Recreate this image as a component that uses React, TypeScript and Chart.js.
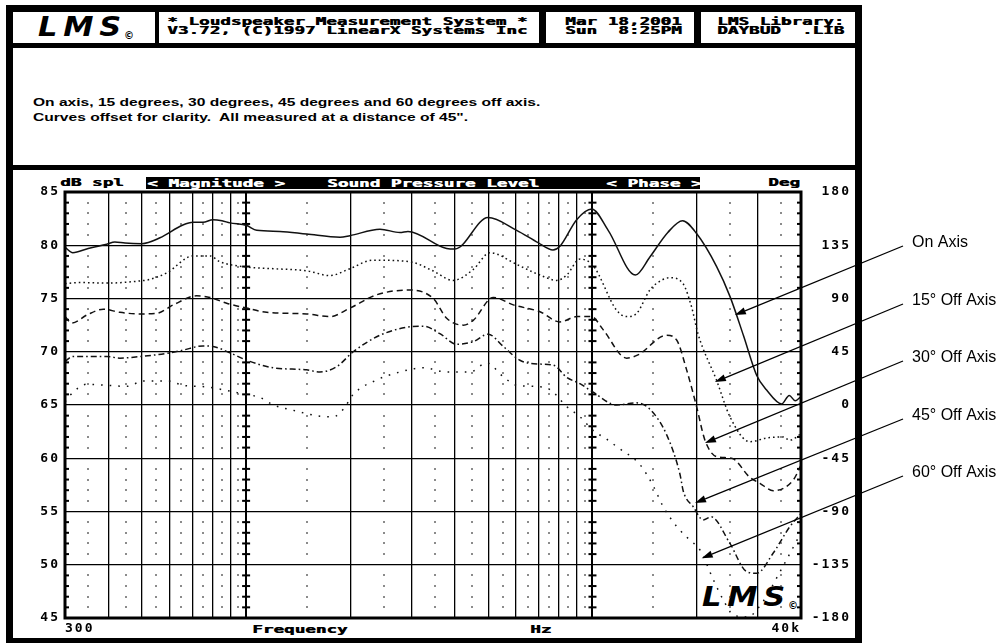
import React, { useEffect, useRef } from 'react';
import { Chart, registerables } from 'chart.js';

Chart.register(...registerables);

// ---------------- data ----------------
const onAxisFreq = [300, 316, 350, 396, 418, 447, 500, 564, 657, 703, 751, 802, 852, 898, 1004, 1073, 1252, 1496, 1867, 1994, 2435, 2781, 2933, 3794, 4009, 4993, 6042, 6961, 7690, 8055, 9003, 9947, 11100, 13300, 14650, 16500, 18200, 19980, 22830, 24940, 27300, 29780, 31830, 35170, 37000, 38500, 40000];
const onAxisDb = [79.8, 79.3, 79.7, 80.1, 80.3, 80.2, 80.15, 80.7, 81.9, 82.15, 82.15, 82.4, 82.3, 82.1, 81.85, 81.4, 81.3, 81.05, 80.75, 80.9, 81.5, 81.2, 81.3, 79.7, 79.65, 82.6, 81.4, 80.25, 79.55, 79.9, 82.4, 83.4, 81.4, 77.2, 78.9, 81.2, 82.3, 81.1, 78.0, 75.2, 71.5, 67.8, 66.4, 65.1, 65.9, 65.4, 65.8];

const off15Freq = [300, 331, 396, 494, 528, 590, 703, 787, 841, 1004, 1196, 1496, 1746, 1994, 2324, 2972, 3462, 3957, 4518, 5059, 6042, 7052, 7881, 8424, 9200, 10040, 11740, 12550, 13410, 14650, 15800, 16740, 18250, 19330, 20160, 22830, 24940, 28480, 31830, 35460, 37170, 40000];
const off15Db = [76.4, 76.5, 76.45, 76.65, 76.8, 77.4, 79.0, 79.0, 78.45, 77.95, 77.8, 77.6, 77.15, 77.8, 78.6, 78.45, 77.6, 76.7, 77.7, 79.3, 78.2, 77.2, 76.7, 77.2, 78.7, 78.1, 73.9, 73.3, 73.6, 75.8, 76.7, 76.95, 76.4, 74.2, 71.7, 67.3, 63.9, 61.55, 61.9, 62.0, 61.7, 62.3];

const off30Freq = [300, 314, 347, 387, 432, 494, 552, 616, 720, 787, 879, 1004, 1147, 1496, 1746, 1994, 2382, 2972, 3470, 3794, 4235, 4527, 5172, 5908, 7052, 8055, 9003, 9947, 10720, 12550, 13530, 16380, 17500, 18700, 19980, 21120, 22830, 25230, 28480, 30440, 33260, 37980, 40000];
const off30Db = [73.3, 72.7, 73.45, 74.0, 73.7, 73.55, 73.6, 74.4, 75.25, 75.1, 74.55, 74.1, 73.7, 73.55, 73.3, 74.1, 75.35, 75.8, 75.0, 73.15, 72.5, 72.95, 75.1, 74.4, 73.75, 72.8, 73.3, 73.3, 72.1, 69.4, 69.7, 71.55, 71.1, 68.3, 64.85, 61.7, 60.15, 60.0, 58.2, 57.65, 56.95, 57.95, 59.35];

const off45Freq = [300, 316, 396, 432, 494, 590, 657, 751, 802, 898, 1004, 1196, 1496, 1634, 1826, 2039, 2435, 2908, 3247, 3627, 4053, 4527, 5000, 5526, 6174, 6961, 7704, 8424, 9201, 10050, 11740, 13410, 14650, 16380, 17890, 18290, 19540, 20880, 22000, 24940, 27870, 29780, 33260, 37170, 40000];
const off45Db = [69.1, 69.55, 69.55, 69.4, 69.55, 69.85, 70.15, 70.55, 70.5, 69.9, 69.2, 68.5, 68.3, 68.1, 68.6, 70.0, 71.55, 72.3, 72.4, 71.7, 70.7, 70.95, 71.65, 70.5, 69.2, 68.85, 68.75, 67.6, 67.0, 66.2, 65.0, 65.2, 64.6, 62.2, 58.5, 56.9, 55.45, 54.2, 54.5, 52.0, 49.35, 49.2, 51.1, 53.6, 54.8];

const off60Freq = [300, 310, 347, 396, 452, 505, 596, 657, 770, 852, 960, 1097, 1200, 1368, 1634, 1785, 1908, 2039, 2382, 2781, 3247, 3794, 4429, 4950, 5526, 6042, 6747, 7538, 8424, 9201, 10050, 10990, 11740, 13710, 14980, 16010, 17500, 19120, 20430, 22330, 23860, 25500, 28000, 31000, 35000, 40000];
const off60Db = [65.3, 65.9, 66.95, 66.85, 66.75, 67.25, 67.25, 66.85, 66.7, 66.45, 66.1, 65.7, 65.0, 64.5, 63.95, 63.9, 64.6, 66.0, 67.35, 68.1, 68.5, 68.1, 68.1, 68.95, 67.65, 66.85, 66.75, 66.45, 64.85, 63.9, 62.6, 61.8, 61.1, 59.4, 57.4, 55.45, 53.6, 52.3, 51.4, 48.6, 46.7, 45.3, 45.1, 46.5, 49.5, 53.0];

const seriesLabels = ['On Axis', '15° Off Axis', '30° Off Axis', '45° Off Axis', '60° Off Axis'];
const arrowTipFreq = [25770, 22560, 21120, 19770, 20670];
const arrowTipDb = [73.45, 67.16, 61.43, 55.8, 50.6];

const gridFreqs = [300, 400, 500, 600, 700, 800, 900, 1000, 2000, 3000, 4000, 5000, 6000, 7000, 8000, 9000, 10000, 20000, 30000, 40000];
const dotFreqs = [350, 450, 550, 650, 750, 850, 950, 1500, 2500, 3500, 4500, 5500, 6500, 7500, 8500, 9500, 15000, 25000, 35000];
const decadeFreqs = [1000, 10000];
const xTickText: Record<number, string> = { 300: '300', 40000: '40k' };
const dbMin = 45, dbMax = 85, dbStep = 5;
const phaseMin = -180, phaseMax = 180, phaseStep = 45;

// ---------------- styling ----------------
const PIX_FONT = '"DejaVu Sans Mono", "Liberation Mono", monospace';
const SANS = '"Liberation Sans", Arial, Helvetica, sans-serif';

const toPts = (f: number[], d: number[]) => f.map((v, i) => ({ x: v, y: d[i] }));

const gridDecor = {
  id: 'gridDecor',
  beforeDatasetsDraw(chart: any) {
    const { ctx, chartArea, scales } = chart;
    const { left, right } = chartArea;
    const x = scales.x, y = scales.y;
    ctx.save();
    for (let d = dbMin + 1; d < dbMax; d++) {
      if (d % dbStep === 0) continue;
      const py = y.getPixelForValue(d);
      ctx.fillStyle = '#333';
      dotFreqs.forEach((f) => {
        const px = x.getPixelForValue(f);
        ctx.fillRect(Math.round(px) - 0.75, Math.round(py) - 0.75, 1.5, 1.5);
      });
      ctx.fillStyle = '#000';
      ctx.fillRect(left, py - 1, 4, 2);
      ctx.fillRect(right - 4, py - 1, 4, 2);
      decadeFreqs.forEach((f) => {
        const px = x.getPixelForValue(f);
        ctx.fillRect(px - 4, py - 1, 8, 2);
      });
    }
    ctx.restore();
  },
  afterDatasetsDraw(chart: any) {
    const { ctx, chartArea } = chart;
    const { left, right, top, bottom } = chartArea;
    ctx.save();
    ctx.strokeStyle = '#000';
    ctx.lineWidth = 3;
    ctx.strokeRect(left, top, right - left, bottom - top);
    ctx.restore();
  },
};

const spacing = {
  id: 'spacing',
  beforeDraw(chart: any) {
    chart.ctx.letterSpacing = '2px';
  },
};

const arrows = {
  id: 'arrows',
  afterDraw(chart: any) {
    const { ctx, scales } = chart;
    const labelX = 912;
    const startX = 903;
    const baseY = [247, 305, 362, 420, 477];
    ctx.save();
    ctx.letterSpacing = '0px';
    ctx.strokeStyle = '#000';
    ctx.fillStyle = '#000';
    ctx.lineWidth = 1.3;
    seriesLabels.forEach((label, i) => {
      const sx = startX, sy = baseY[i] - 1;
      const tx = scales.x.getPixelForValue(arrowTipFreq[i]);
      const ty = scales.y.getPixelForValue(arrowTipDb[i]);
      const ang = Math.atan2(ty - sy, tx - sx);
      const L = 11, W = 3.6;
      const bx = tx - Math.cos(ang) * L, by = ty - Math.sin(ang) * L;
      ctx.beginPath();
      ctx.moveTo(sx, sy);
      ctx.lineTo(bx, by);
      ctx.stroke();
      ctx.beginPath();
      ctx.moveTo(tx, ty);
      ctx.lineTo(bx + Math.sin(ang) * W, by - Math.cos(ang) * W);
      ctx.lineTo(bx - Math.sin(ang) * W, by + Math.cos(ang) * W);
      ctx.closePath();
      ctx.fill();
      ctx.font = `16px ${SANS}`;
      ctx.textAlign = 'left';
      ctx.textBaseline = 'alphabetic';
      ctx.fillText(label, labelX, baseY[i]);
    });
    ctx.restore();
  },
};

const Px = ({ x, y, text, color = '#000', size = 11, sx = 1.6 }: any) => (
  <div
    style={{
      position: 'absolute', left: x, top: y, fontFamily: PIX_FONT, fontWeight: 'bold',
      fontSize: size, lineHeight: `${size}px`, whiteSpace: 'pre', color,
      transform: `scaleX(${sx})`, transformOrigin: '0 0', textShadow: `0.5px 0 0 ${color}`,
    }}
  >
    {text}
  </div>
);

const Panel = ({ x, y, w, h }: any) => (
  <div style={{ position: 'absolute', left: x, top: y, width: w, height: h, background: '#fff' }} />
);

const Logo = ({ x, y }: any) => (
  <>
    <div
      style={{
        position: 'absolute', left: x, top: y, fontFamily: '"DejaVu Sans", sans-serif',
        fontStyle: 'italic', fontWeight: 'bold', fontSize: 26, lineHeight: '26px',
        letterSpacing: 5, whiteSpace: 'pre', transform: 'scaleX(1.17)', transformOrigin: '0 0', color: '#000',
      }}
    >
      LMS
    </div>
    <div
      style={{
        position: 'absolute', left: x + 86, top: y + 17, fontFamily: '"DejaVu Sans", sans-serif',
        fontSize: 10, lineHeight: '10px', color: '#000', fontWeight: 'bold',
      }}
    >
      ©
    </div>
  </>
);

export default function App() {
  const ref = useRef<HTMLCanvasElement | null>(null);

  useEffect(() => {
    if (!ref.current) return;
    const common = { borderColor: '#111', borderWidth: 1.5, pointRadius: 0, cubicInterpolationMode: 'monotone', fill: false };
    const tickFont = { family: PIX_FONT, size: 13, weight: 'bold' };
    const chart = new Chart(ref.current, {
      type: 'line',
      data: {
        datasets: [
          { ...common, label: seriesLabels[0], data: toPts(onAxisFreq, onAxisDb), borderDash: [] },
          { ...common, label: seriesLabels[1], data: toPts(off15Freq, off15Db), borderDash: [1.6, 3] },
          { ...common, label: seriesLabels[2], data: toPts(off30Freq, off30Db), borderDash: [6, 4] },
          { ...common, label: seriesLabels[3], data: toPts(off45Freq, off45Db), borderDash: [6, 3, 1.6, 3] },
          { ...common, label: seriesLabels[4], data: toPts(off60Freq, off60Db), borderDash: [1.6, 7] },
        ] as any,
      },
      options: {
        animation: false,
        responsive: false,
        maintainAspectRatio: false,
        layout: { padding: { left: 0, top: 192, right: 150, bottom: 0 } },
        plugins: { legend: { display: false }, tooltip: { enabled: false }, title: { display: false } },
        scales: {
          x: {
            type: 'logarithmic',
            min: 300,
            max: 40000,
            afterBuildTicks: (s: any) => { s.ticks = gridFreqs.map((v) => ({ value: v })); },
            afterFit: (s: any) => { s.height = 25; },
            ticks: {
              autoSkip: false, maxRotation: 0, minRotation: 0, align: 'inner', padding: 3, color: '#000',
              font: tickFont,
              callback: (v: any) => xTickText[Number(v)] ?? '',
            },
            grid: {
              drawTicks: false,
              color: (c: any) => (c.tick && (c.tick.value === 300 || c.tick.value === 40000) ? 'rgba(0,0,0,0)' : '#000'),
              lineWidth: (c: any) => (c.tick && decadeFreqs.includes(c.tick.value) ? 2 : 1.3),
            },
            border: { display: false },
          },
          y: {
            position: 'left',
            min: dbMin,
            max: dbMax,
            afterFit: (s: any) => { s.width = 65; },
            ticks: {
              stepSize: dbStep, padding: 5, color: '#000',
              font: tickFont,
              callback: (v: any) => String(v),
            },
            grid: { drawTicks: false, color: '#000', lineWidth: 1.3 },
            border: { display: false },
          },
          y2: {
            position: 'right',
            min: phaseMin,
            max: phaseMax,
            afterFit: (s: any) => { s.width = 50; },
            ticks: {
              stepSize: phaseStep, padding: 0, crossAlign: 'far', color: '#000',
              font: tickFont,
              callback: (v: any) => String(v),
            },
            grid: { display: false, drawTicks: false, drawOnChartArea: false },
            border: { display: false },
          },
        },
      } as any,
      plugins: [spacing, gridDecor, arrows],
    });
    return () => chart.destroy();
  }, []);

  return (
    <div style={{ position: 'absolute', left: 0, top: 0, width: 1001, height: 643, background: '#fff', overflow: 'hidden' }}>
      <div style={{ position: 'absolute', left: 6, top: 5, width: 856, height: 638, background: '#000' }} />
      <Panel x={13} y={12} w={142} h={31} />
      <Panel x={159} y={12} w={380} h={31} />
      <Panel x={546} y={12} w={148} h={31} />
      <Panel x={701} y={12} w={154} h={31} />
      <Panel x={13} y={48} w={842} h={117} />
      <Panel x={13} y={170} w={842} h={468} />

      <Logo x={38} y={14} />
      <Px x={167} y={16} text="* Loudspeaker Measurement System *" />
      <Px x={167} y={25.3} text="V3.72, (C)1997 LinearX Systems Inc" />
      <Px x={565} y={16} text="Mar 18,2001" />
      <Px x={565} y={25.3} text="Sun  8:25PM" />
      <Px x={717} y={16} text="LMS Library:" />
      <Px x={717} y={25.3} text="DAYBUD  .LIB" />

      <div style={{ position: 'absolute', left: 33, top: 97, fontFamily: SANS, fontWeight: 'bold', fontSize: 11, lineHeight: '11px', whiteSpace: 'pre', transform: 'scaleX(1.416)', transformOrigin: '0 0', color: '#000' }}>
        On axis, 15 degrees, 30 degrees, 45 degrees and 60 degrees off axis.
      </div>
      <div style={{ position: 'absolute', left: 33, top: 112, fontFamily: SANS, fontWeight: 'bold', fontSize: 11, lineHeight: '11px', whiteSpace: 'pre', transform: 'scaleX(1.416)', transformOrigin: '0 0', color: '#000' }}>
        {'Curves offset for clarity.  All measured at a distance of 45".'}
      </div>

      <Px x={60} y={176.5} text="dB spl" />
      <div style={{ position: 'absolute', left: 146, top: 176.5, width: 554, height: 12, background: '#000' }} />
      <Px x={147} y={177.5} text="< Magnitude >" color="#fff" />
      <Px x={327} y={177.5} text="Sound Pressure Level" color="#fff" />
      <Px x={606} y={177.5} text="< Phase >" color="#fff" />
      <Px x={768} y={177} text="Deg" />
      <Px x={252} y={623.5} text="Frequency" />
      <Px x={530} y={623.5} text="Hz" />

      <Logo x={702} y={584} />

      <canvas ref={ref} width={1001} height={643} style={{ position: 'absolute', left: 0, top: 0, width: 1001, height: 643 }} />
    </div>
  );
}
